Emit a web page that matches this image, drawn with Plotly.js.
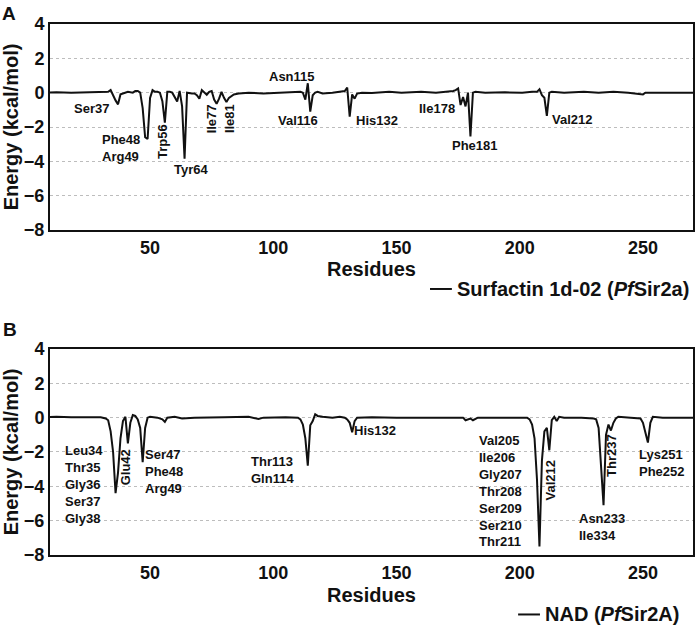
<!DOCTYPE html>
<html>
<head>
<meta charset="utf-8">
<script src="https://cdn.plot.ly/plotly-3.0.1.min.js"></script>
<style>
  html, body { margin: 0; padding: 0; background: #fff; }
  #chart { width: 699px; height: 627px; }
</style>
</head>
<body>
<div id="chart"></div>
<script>
// panel A: surfactin 1d-02 / PfSir2a, per-residue energy
var resA = [5, 12, 18, 24, 30, 33, 34, 35, 36, 37, 38, 39, 41, 43, 44, 45, 46, 47, 48, 49, 50,
  51, 52, 53, 54, 55, 56, 57, 58, 59, 60, 61, 62, 63, 64, 65, 67, 68, 69, 70, 71, 72, 73, 74,
  75, 76, 77, 78, 79, 80, 81, 82, 83, 84, 86, 90, 96, 100, 106, 111, 112, 113, 114, 115, 116,
  117, 118, 120, 124, 128, 129, 130, 131, 132, 133, 134, 136, 140, 147, 152, 160, 166, 171,
  173, 174, 175, 176, 177, 178, 179, 180, 181, 182, 186, 194, 201, 205, 207, 208, 209, 210,
  211, 212, 213, 218, 226, 232, 238, 244, 249, 250, 251, 258, 265, 273];
var energyA = [0.0, 0.02, -0.01, 0.01, 0.0, 0.05, 0.15, -0.2, -0.45, -0.68, -0.1, -0.05, 0.05,
  0.0, 0.1, 0.1, 0.0, -0.9, -2.6, -2.7, -0.3,
  0.15, 0.05, 0.05, 0.0, -0.5, -1.75, 0.05, 0.05, 0.0, -0.3, -0.52, 0.1, -0.8, -3.85, 0.0,
  -0.05, -0.05, -0.15, -0.35, 0.15, 0.0, -0.12, 0.05,
  0.1, -0.4, -0.65, -0.35, 0.05, -0.3, -0.55, -0.3, -0.2, -0.1, -0.05, 0.0, -0.05, -0.02, 0.0,
  0.05, 0.0, -0.4, 0.55, -1.1, -0.15,
  0.0, 0.05, -0.05, 0.0, 0.05, 0.1, 0.3, -1.4, -0.1, -0.35, -0.05, 0.0, -0.02, 0.05, 0.0, 0.05,
  0.0, 0.05,
  0.1, 0.15, 0.25, -0.72, -0.25, -0.8, 0.0, -2.55, 0.0, 0.05, 0.0, 0.02, 0.0, 0.05, 0.05, 0.2,
  -0.15, -0.3,
  -1.35, 0.0, 0.05, 0.0, 0.05, 0.0, 0.05, 0.0, -0.05, -0.1, 0.0, 0.02, 0.0, 0.0];

// panel B: NAD / PfSir2A
var resB = [5, 12, 18, 25, 30, 32, 33, 34, 35, 36, 37, 38, 39, 40, 41, 42, 43, 44, 45, 46, 47,
  48, 49, 50, 53, 55, 56, 57, 60, 63, 68, 80, 90, 94, 96, 105, 110, 111, 112, 113, 114, 115,
  116, 117, 118, 120, 124, 127, 129, 130, 131, 132, 133, 134, 140, 150, 160, 170, 177, 178,
  180, 181, 183, 190, 198, 203, 204, 205, 206, 207, 208, 209, 210, 211, 212, 213, 214, 215,
  216, 218, 225, 230, 231, 232, 233, 234, 235, 236, 237, 238, 239, 240, 245, 249, 250, 251,
  252, 253, 254, 258, 265, 273];
var energyB = [0.02, 0.05, 0.02, 0.03, 0.02, -0.05, -0.15, -0.8, -2.0, -4.4, -3.2, -1.2, -0.2,
  0.05, -1.5, -0.3, 0.15, 0.1, -0.1, -0.6, -2.6,
  -0.6, 0.0, 0.05, 0.0, -0.1, -0.25, 0.0, 0.05, -0.05, 0.0, 0.02, 0.05, -0.08, 0.0, 0.03, 0.0,
  -0.1, -0.4, -1.2, -2.8, -0.45,
  -0.2, 0.2, 0.1, 0.05, 0.0, 0.05, 0.0, -0.1, -0.3, -0.85, -0.2, 0.0, 0.02, 0.0, 0.02, 0.0, 0.0,
  -0.15,
  -0.05, -0.15, 0.0, 0.02, 0.0, 0.0, -0.1, -0.4, -1.2, -3.6, -7.5, -2.5, -0.8, -0.6, -1.9, -0.15,
  0.05, -0.2,
  0.05, 0.0, 0.0, -0.05, -0.1, -0.6, -3.2, -5.1, -1.0, -0.4, -0.75, -0.3, -0.05, 0.05, 0.0,
  -0.05, -0.3, -0.8,
  -1.45, -0.3, 0.05, 0.0, 0.02, 0.0];

var seriesNames = ['Surfactin 1d-02 (<i>Pf</i>Sir2a)', 'NAD (<i>Pf</i>Sir2A)'];

// residue labels: [text, x, y, angle]
var labelsA = [
  ['Ser37', 26.3, -0.91, 0],
  ['Phe48<br>Arg49', 38.1, -3.22, 0],
  ['Trp56', 55, -2.85, -90],
  ['Tyr64', 66.5, -4.46, 0],
  ['Ile77', 75.3, -1.53, -90],
  ['Ile81', 82.5, -1.53, -90],
  ['Asn115', 107.5, 0.97, 0],
  ['Val116', 109.9, -1.63, 0],
  ['His132', 142.2, -1.63, 0],
  ['Ile178', 166.6, -0.95, 0],
  ['Phe181', 181.8, -3.05, 0],
  ['Val212', 221.3, -1.59, 0]
];
var labelsB = [
  ['Leu34<br>Thr35<br>Gly36<br>Ser37<br>Gly38', 23.3, -3.87, 0],
  ['Glu42', 40.4, -2.87, -90],
  ['Ser47<br>Phe48<br>Arg49', 55.7, -3.16, 0],
  ['Thr113<br>Gln114', 99.7, -3.02, 0],
  ['His132', 141.3, -0.73, 0],
  ['Val205<br>Ile206<br>Gly207<br>Thr208<br>Ser209<br>Ser210<br>Thr211', 192.1, -4.29, 0],
  ['Val212', 212.4, -3.64, -90],
  ['Thr237', 237, -2.18, -90],
  ['Asn233<br>Ile334', 233.2, -6.34, 0],
  ['Lys251<br>Phe252', 257.9, -2.64, 0]
];

var FONT = 'Liberation Sans, Arial, sans-serif';

var traces = [
  { x: resA, y: energyA, xaxis: 'x', yaxis: 'y', type: 'scatter', mode: 'lines',
    line: { color: '#111', width: 2 }, name: seriesNames[0] },
  { x: resB, y: energyB, xaxis: 'x2', yaxis: 'y2', type: 'scatter', mode: 'lines',
    line: { color: '#111', width: 2 }, name: seriesNames[1] }
];

function xax(anchor) {
  return {
    anchor: anchor, range: [9.4, 270.3], tickvals: [50, 100, 150, 200, 250],
    showgrid: false, zeroline: false, showline: true, mirror: true,
    linecolor: '#111', linewidth: 2, ticks: '',
    tickfont: { family: FONT, size: 18, weight: 'bold', color: '#111' }
  };
}
function yax(anchor, dom) {
  return {
    anchor: anchor, domain: dom, range: [-8, 4], tickvals: [4, 2, 0, -2, -4, -6, -8],
    showgrid: true, gridcolor: '#bdbdbd', griddash: 'dot', gridwidth: 1,
    zeroline: false, showline: true, mirror: true,
    linecolor: '#111', linewidth: 2, ticks: '',
    tickfont: { family: FONT, size: 18, weight: 'bold', color: '#111' },
    title: { text: 'Energy (kcal/mol)', standoff: 4,
      font: { family: FONT, size: 20, weight: 'bold', color: '#111' } }
  };
}

var lblFont = { family: FONT, size: 13, weight: 'bold', color: '#111' };
var annots = [];
labelsA.forEach(function (l) {
  annots.push({ text: l[0], x: l[1], y: l[2], xref: 'x', yref: 'y', textangle: l[3],
    showarrow: false, align: 'left', font: lblFont });
});
labelsB.forEach(function (l) {
  annots.push({ text: l[0], x: l[1], y: l[2], xref: 'x2', yref: 'y2', textangle: l[3],
    showarrow: false, align: 'left', font: lblFont });
});
annots.push({ text: 'A', xref: 'paper', yref: 'paper', x: -0.064, y: 1.019, xanchor: 'center',
  yanchor: 'middle', showarrow: false, font: { family: FONT, size: 19, weight: 'bold', color: '#111' } });
annots.push({ text: 'B', xref: 'paper', yref: 'paper', x: -0.062, y: 0.4256, xanchor: 'center',
  yanchor: 'middle', showarrow: false, font: { family: FONT, size: 19, weight: 'bold', color: '#111' } });

// x titles placed by hand (plotly keeps them too far below the ticks)
var titleFont = { family: FONT, size: 20, weight: 'bold', color: '#111' };
[0.538, -0.075].forEach(function (y) {
  annots.push({ text: 'Residues', xref: 'paper', yref: 'paper', x: 0.5, y: y,
    xanchor: 'center', yanchor: 'middle', showarrow: false, borderpad: 0, font: titleFont });
});

// legend keys drawn by hand below each panel
var legFont = { family: FONT, size: 20, weight: 'bold', color: '#111' };
var legPos = [[0.591, 0.501], [0.728, -0.112]];
var shapes = [];
legPos.forEach(function (p, i) {
  shapes.push({ type: 'line', xref: 'paper', yref: 'paper', x0: p[0], x1: p[0] + 0.034,
    y0: p[1], y1: p[1], line: { color: '#111', width: 2 } });
  annots.push({ text: seriesNames[i], xref: 'paper', yref: 'paper', x: p[0] + 0.04, y: p[1],
    xanchor: 'left', yanchor: 'middle', showarrow: false, borderpad: 0, font: legFont });
});

var layout = {
  width: 699, height: 627,
  margin: { l: 50, r: 6, t: 24, b: 72 },
  paper_bgcolor: '#fff', plot_bgcolor: '#fff',
  showlegend: false,
  xaxis: xax('y'),
  yaxis: yax('x', [0.612, 1]),
  xaxis2: xax('y2'),
  yaxis2: yax('x2', [0, 0.388]),
  annotations: annots,
  shapes: shapes
};

Plotly.newPlot('chart', traces, layout, { displayModeBar: false, staticPlot: true });
</script>
</body>
</html>
